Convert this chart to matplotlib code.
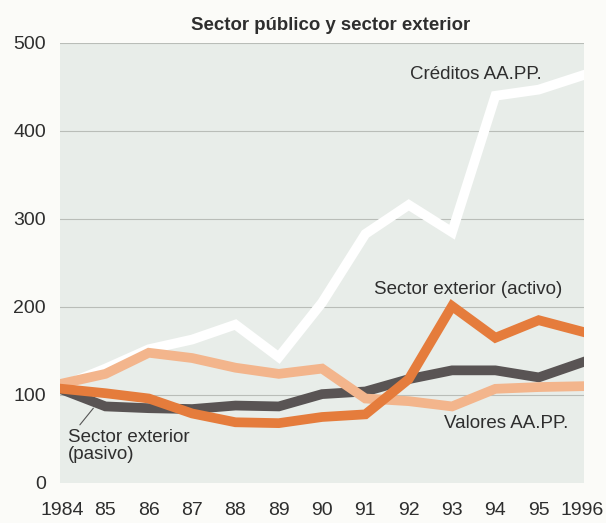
import matplotlib.pyplot as plt

plt.rcParams['font.family'] = ['Liberation Sans', 'DejaVu Sans']

years = [1984, 1985, 1986, 1987, 1988, 1989, 1990, 1991, 1992, 1993, 1994, 1995, 1996]
year_labels = ['1984', '85', '86', '87', '88', '89', '90', '91', '92', '93', '94', '95', '1996']
creditos = [110, 130, 152, 163, 180, 143, 205, 283, 316, 285, 440, 447, 463]
valores = [113, 124, 148, 142, 131, 124, 130, 96, 93, 87, 107, 109, 110]
pasivo = [106, 87, 85, 84, 88, 87, 101, 104, 118, 128, 128, 120, 137]
activo = [107, 102, 96, 79, 69, 68, 75, 78, 118, 201, 165, 185, 172]
yticks = [0, 100, 200, 300, 400, 500]

txt = '#2e2e2e'
fig = plt.figure(figsize=(6.06, 5.23), dpi=100)
fig.patch.set_facecolor('#fbfbf8')
ax = fig.add_axes([0.099, 0.0765, 0.865, 0.8413])
ax.set_facecolor('#e8ede9')

for y in yticks[1:]:
    ax.axhline(y, color='#b9bdb8', lw=0.8, zorder=1)

lw = 7
ax.plot(years, pasivo, color='#595454', lw=lw, solid_joinstyle='miter', zorder=3)
ax.plot(years, valores, color='#f3b58c', lw=lw, solid_joinstyle='miter', zorder=4)
ax.plot(years, activo, color='#e57c3c', lw=lw, solid_joinstyle='miter', zorder=5)
ax.plot(years, creditos, color='white', lw=lw, solid_joinstyle='miter', zorder=2)

ax.set_xlim(1983.95, 1996.05)
ax.set_ylim(0, 496)
for s in ax.spines.values():
    s.set_visible(False)
ax.tick_params(length=0, labelsize=14, colors=txt)
ax.set_xticks(years)
ax.set_xticklabels(year_labels)
ax.tick_params(axis='x', pad=14)
ax.set_yticks(yticks)
ax.set_yticklabels([str(v) for v in yticks])
ax.tick_params(axis='y', pad=10)

ax.set_title('Sector público y sector exterior', fontsize=13.4, fontweight='bold',
             color=txt, pad=9, x=0.517)

fs = 13.5
ax.text(1993.55, 464, 'Créditos AA.PP.', fontsize=fs, color=txt, va='center', ha='center')
ax.text(1993.38, 220, 'Sector exterior (activo)', fontsize=fs, color=txt, va='center', ha='center')
ax.text(1994.25, 68, 'Valores AA.PP.', fontsize=fs, color=txt, va='center', ha='center')
ax.annotate('Sector exterior\n(pasivo)', xy=(1984.72, 85), xytext=(1984.14, 42),
            fontsize=fs, color=txt, va='center', ha='left', linespacing=1.05,
            arrowprops=dict(arrowstyle='-', color='#555555', lw=0.8,
                            shrinkA=1, shrinkB=0, relpos=(0.07, 1.0)))

fig.savefig('out.png', dpi=100, facecolor=fig.get_facecolor())
